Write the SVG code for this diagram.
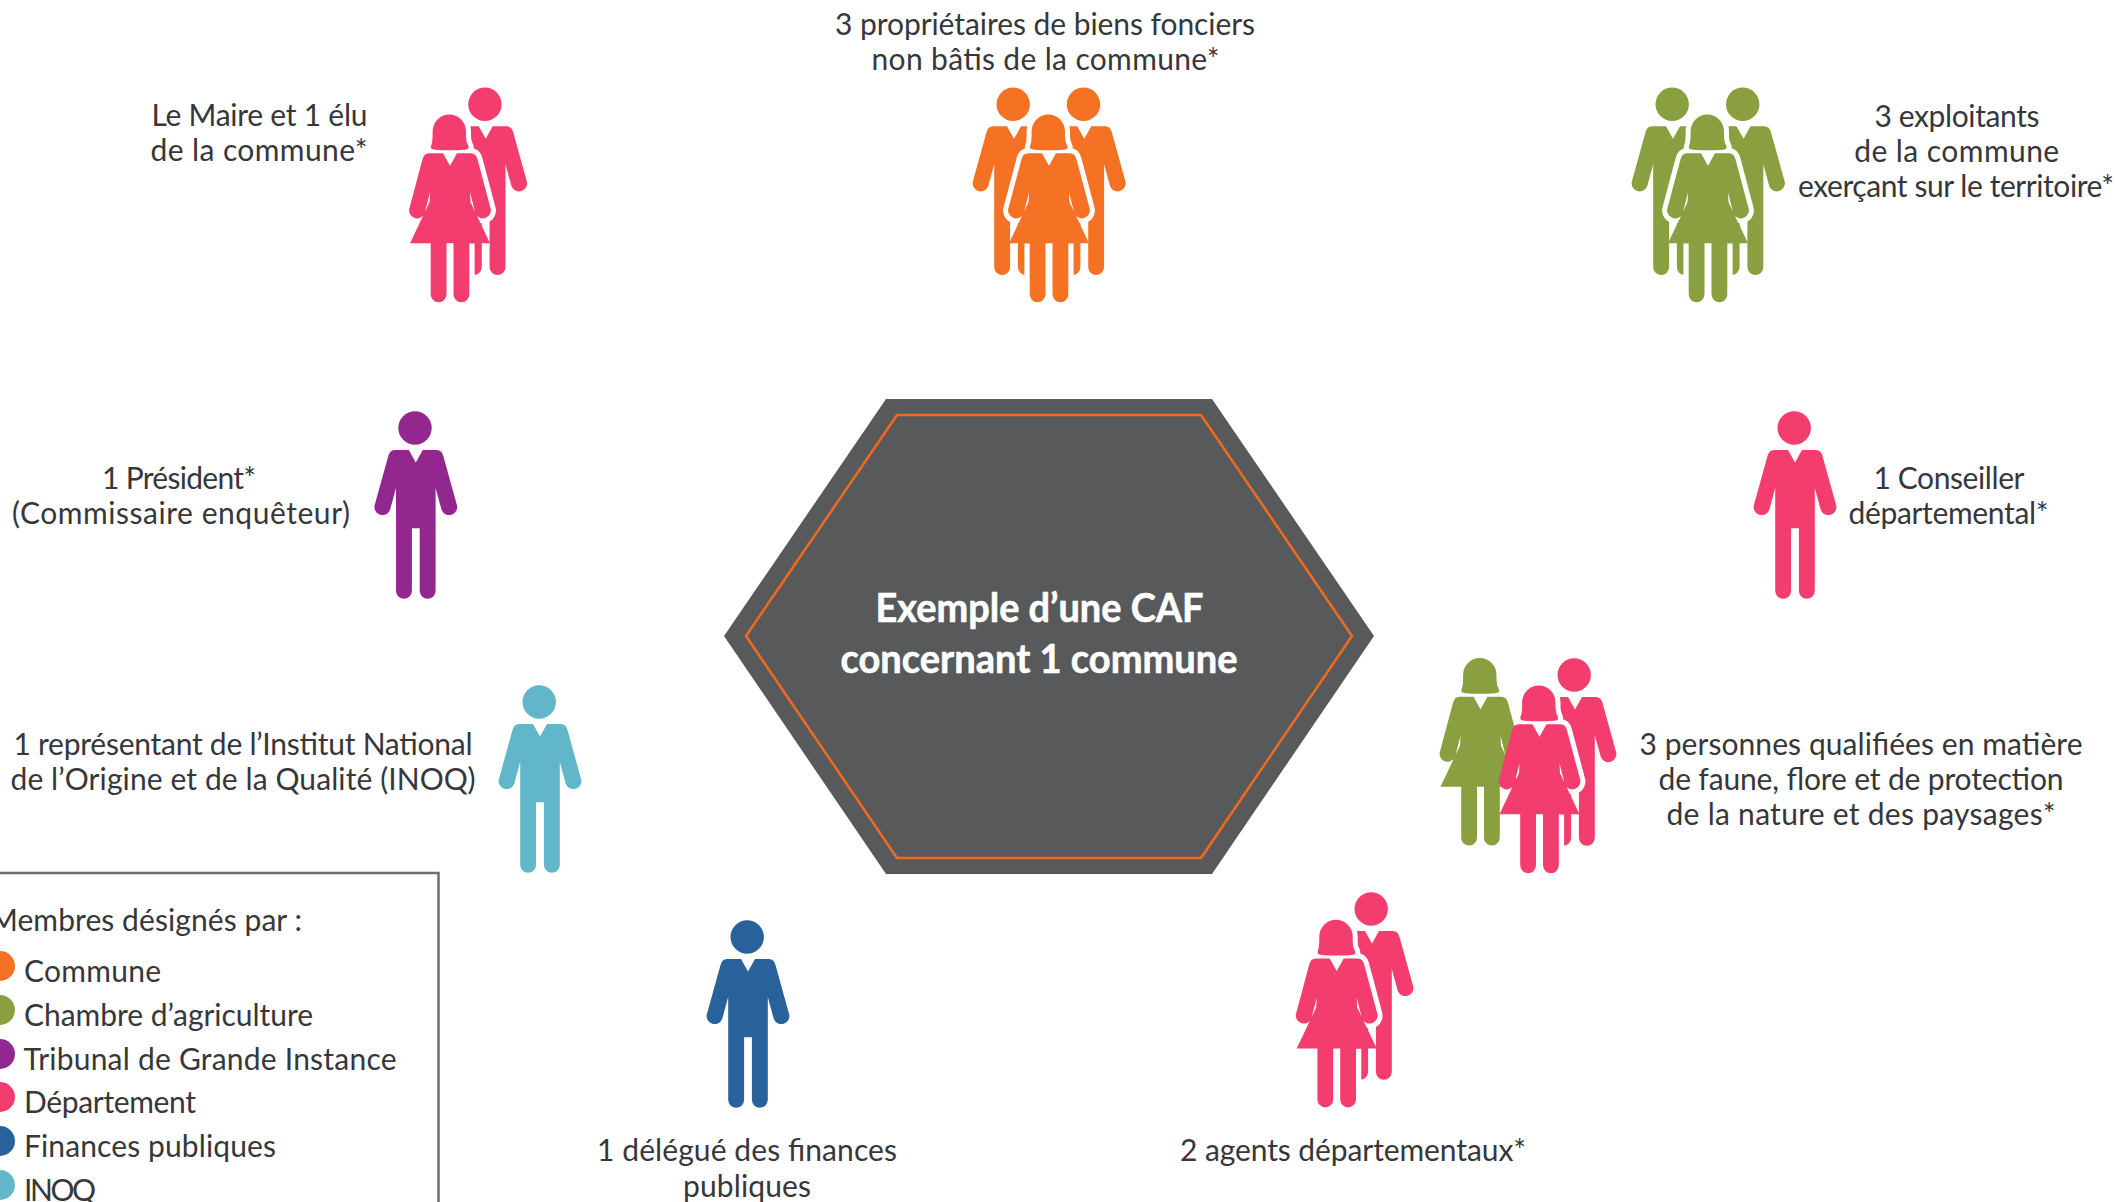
<svg xmlns="http://www.w3.org/2000/svg" width="2118" height="1202" viewBox="0 0 2118 1202">
<style>
text{font-family:"Lato","Open Sans","DejaVu Sans",sans-serif;font-size:30px;font-weight:400;fill:#37373a;text-anchor:middle}
.l{text-anchor:start}
.t{font-weight:700;font-size:40px;fill:#fff;stroke:#fff;stroke-width:.6px}
.halo{fill:#fff;stroke:#fff;stroke-width:10;stroke-linejoin:round}
.or{fill:#f57124}.gr{fill:#8a9f3f}.pu{fill:#92278f}.pk{fill:#f23d6e}.bl{fill:#29629a}.te{fill:#62b6c9}
</style>
<defs>
<path id="man" d="M-21,22H-7L0,34.5L7,22H21Q26,22 27.5,28L40.8,76A7.8,7.8 0 0 1 25.8,82L19.8,60V162.8A7.9,7.9 0 0 1 3.9,162.8V100.3H-3.9V162.8A7.9,7.9 0 0 1 -19.8,162.8V60L-25.8,82A7.8,7.8 0 0 1 -40.8,76L-27.5,28Q-26,22 -21,22Z"/>
<circle id="manhead" cx="-.8" cy="0" r="16.7"/>
<g id="m"><use href="#man"/><use href="#manhead"/></g>
<path id="wbody" d="M-21,22H-7L0,34.5L7,22H21Q26,22 27.5,28L40.3,76A7.8,7.8 0 0 1 25.3,82L20,61L20.5,71L40,112H19.3V163A7.9,7.9 0 0 1 3.5,163V112H-3.5V163A7.9,7.9 0 0 1 -19.3,163V112H-40L-20.5,71L-20,61L-25.3,82A7.8,7.8 0 0 1 -40.3,76L-27.5,28Q-26,22 -21,22Z"/>
<path id="whair" d="M-17.4,0A16.7,16.7 0 0 1 16,0V5Q16,11 18.5,15Q19.5,18 15,18.5Q0,19.5 -15,18.5Q-20,18 -19,15Q-17.4,11 -17.4,5Z"/>
<g id="w"><use href="#wbody"/><use href="#whair"/></g>
<path id="wupper" d="M-21,22H-7L0,34.5L7,22H21Q26,22 27.5,28L40.3,76A7.8,7.8 0 0 1 25.3,82L20,61V71H-20V61L-25.3,82A7.8,7.8 0 0 1 -40.3,76L-27.5,28Q-26,22 -21,22Z"/>
<g id="wh"><use href="#wupper" class="halo"/><use href="#whair" class="halo"/><rect x="-24.6" y="112" width="49.2" height="62" fill="#fff"/></g>
<clipPath id="rs"><rect x="-2" y="-40" width="80" height="240"/></clipPath>
</defs>
<g id="hexagone">
<polygon points="886,399 1212,399 1374,636 1212,874 886,874 724,636" fill="#58595b"/>
<polygon points="897,415 1201,415 1352,636 1201,858 897,858 746,636" fill="none" stroke="#f26a1f" stroke-width="2.5"/>
<text class="t" x="1039.5" y="622" textLength="328" lengthAdjust="spacingAndGlyphs">Exemple d’une CAF</text>
<text class="t" x="1039" y="673" textLength="397" lengthAdjust="spacingAndGlyphs">concernant 1 commune</text>
</g>
<g id="proprietaires" class="or">
<use href="#m" transform="translate(1014,104.3)"/><use href="#m" transform="translate(1084.3,104.3)"/>
<use href="#wh" transform="translate(1049,131.3)"/><use href="#w" transform="translate(1049,131.3)"/>
<text x="1045" y="35" textLength="420">3 propriétaires de biens fonciers</text><text x="1045.5" y="70" textLength="348">non bâtis de la commune*</text>
</g>
<g id="maire" class="pk">
<use href="#m" transform="translate(485.7,104.3)"/>
<use href="#wh" transform="translate(450,131.3)"/><use href="#w" transform="translate(450,131.3)"/>
<text x="259.5" y="126" textLength="216">Le Maire et 1 élu</text><text x="259" y="161" textLength="217">de la commune*</text>
</g>
<g id="exploitants" class="gr">
<use href="#m" transform="translate(1673,104.3)"/><use href="#m" transform="translate(1743.5,104.3)"/>
<use href="#wh" transform="translate(1708,131.3)"/><use href="#w" transform="translate(1708,131.3)"/>
<text x="1957" y="127" textLength="165">3 exploitants</text><text x="1956.7" y="162" textLength="205">de la commune</text><text x="1956" y="197" textLength="316">exerçant sur le territoire*</text>
</g>
<g id="president" class="pu"><use href="#m" transform="translate(415.8,428)"/>
<text x="179" y="489" textLength="154">1 Président*</text><text x="181" y="524" textLength="338">(Commissaire enquêteur)</text></g>
<g id="conseiller" class="pk"><use href="#m" transform="translate(1795,428)"/>
<text x="1949" y="489" textLength="151">1 Conseiller</text><text x="1948.5" y="524" textLength="200">départemental*</text></g>
<g id="inoq" class="te"><use href="#m" transform="translate(540,702)"/>
<text x="243" y="755" textLength="459">1 représentant de l’Institut National</text><text x="243" y="790" textLength="465">de l’Origine et de la Qualité (INOQ)</text></g>
<g id="qualifiees" class="pk">
<use href="#w" class="gr" transform="translate(1480.5,674.7)"/>
<use href="#m" transform="translate(1575,675)"/>
<use href="#wh" clip-path="url(#rs)" transform="translate(1539.5,702.3)"/><use href="#w" transform="translate(1539.5,702.3)"/>
<text x="1861" y="755" textLength="443">3 personnes qualifiées en matière</text><text x="1861" y="790" textLength="405">de faune, flore et de protection</text><text x="1861" y="825" textLength="389">de la nature et des paysages*</text>
</g>
<g id="finances" class="bl"><use href="#m" transform="translate(748,937)"/>
<text x="747" y="1161" textLength="300">1 délégué des finances</text><text x="747" y="1197" textLength="128">publiques</text></g>
<g id="agents" class="pk">
<use href="#m" transform="translate(1372,909)"/>
<use href="#wh" transform="translate(1336.7,936.5)"/><use href="#w" transform="translate(1336.7,936.5)"/>
<text x="1353" y="1161" textLength="346">2 agents départementaux*</text></g>
<g id="legende">
<path d="M0,873H438.5V1202" fill="none" stroke="#6d6e71" stroke-width="2.5"/>
<circle class="or" cx="0" cy="966" r="15"/><circle class="gr" cx="0" cy="1010" r="15"/><circle class="pu" cx="0" cy="1054" r="15"/><circle class="pk" cx="0" cy="1097" r="15"/><circle class="bl" cx="0" cy="1141" r="15"/><circle class="te" cx="0" cy="1185" r="15"/>
<text class="l" x="-10" y="931" textLength="312">Membres désignés par :</text>
<text class="l" x="24" y="982" textLength="137">Commune</text>
<text class="l" x="24" y="1026" textLength="289">Chambre d’agriculture</text>
<text class="l" x="23.5" y="1070" textLength="373">Tribunal de Grande Instance</text>
<text class="l" x="24" y="1113" textLength="172">Département</text>
<text class="l" x="24" y="1157" textLength="252">Finances publiques</text>
<text class="l" x="24" y="1201" textLength="72">INOQ</text>
</g>
</svg>
